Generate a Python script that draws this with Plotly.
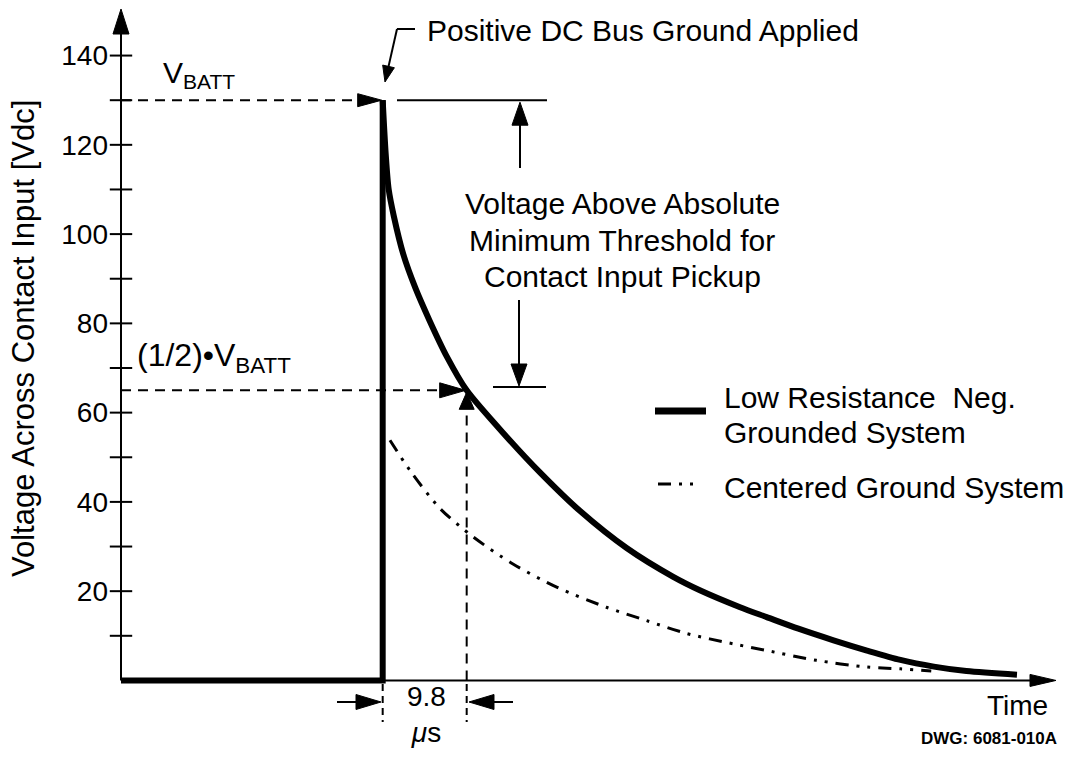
import math
import plotly.graph_objects as go

# ---------------- data ----------------
# Low Resistance Neg. Grounded System (time in microseconds, volts)
t_low_step = [-30.53, 0.0, 0.0]
v_low_step = [0, 0, 130]
t_low = [0.0, 0.35, 0.7, 1.3, 2.4, 3.8, 5.5, 7.5, 9.8, 14.5, 18.4, 23.0, 28.5,
         33.9, 37.0, 41.7, 44.8, 48.5, 52.6, 56.5, 60.4, 64.3, 68.1, 74.0]
v_low = [130, 118, 110, 104, 95.5, 88, 80.5, 72.5, 65, 54.5, 46.5, 38.0, 29.6,
         23.2, 20.2, 16.4, 14.2, 11.6, 9.0, 6.7, 4.6, 3.1, 2.1, 1.3]
# Centered Ground System
t_ctr = [0.85, 3.2, 6.7, 10.6, 15.2, 20.3, 26.1, 30.8, 35.5, 40.9, 44.8, 50.6, 56.5, 60.4, 64.0]
v_ctr = [53.8, 47.0, 38.5, 32.1, 26.1, 20.9, 16.4, 13.4, 10.5, 8.2, 6.7, 4.5, 3.0, 2.6, 2.1]

v_batt = 130
v_half = 65
t_half = 9.8

y_tick_vals = [20, 40, 60, 80, 100, 120, 140]
y_tick_text = ["20", "40", "60", "80", "100", "120", "140"]
y_tick_marks = [10, 20, 30, 40, 50, 60, 70, 80, 90, 100, 110, 120, 130, 140]

# ---------------- geometry ----------------
W, H = 1066, 757
ML, MR, MT, MB = 121, 6, 2, 23
PW, PH = W - ML - MR, H - MT - MB
X0, X1 = -30.53, 79.02
Y0, Y1 = -12, 152

FONT = "Liberation Sans, Arial, Helvetica, sans-serif"


def px(p):
    return (p - ML) / PW


def py(p):
    return 1 - (p - MT) / PH


def dxp(x):
    return ML + (x - X0) / (X1 - X0) * PW


def dyp(y):
    return MT + (Y1 - y) / (Y1 - Y0) * PH


shapes = []
annotations = []


def seg(p0, p1, width=2, dash=None):
    shapes.append(dict(type="line", xref="paper", yref="paper",
                       x0=px(p0[0]), y0=py(p0[1]), x1=px(p1[0]), y1=py(p1[1]),
                       line=dict(color="black", width=width, dash=dash)))


def head(tip, frm, length=22, half=7):
    ux, uy = frm[0] - tip[0], frm[1] - tip[1]
    n = math.hypot(ux, uy)
    ux, uy = ux / n, uy / n
    bx, by = tip[0] + ux * length, tip[1] + uy * length
    nx, ny = -uy, ux
    pts = [tip, (bx + nx * half, by + ny * half), (bx - nx * half, by - ny * half)]
    path = "M " + " L ".join(f"{px(a):.5f},{py(b):.5f}" for a, b in pts) + " Z"
    shapes.append(dict(type="path", xref="paper", yref="paper", path=path,
                       fillcolor="black", line=dict(color="black", width=1)))
    return (bx - ux, by - uy)


def arrow(frm, tip, length=22, half=7, width=2, dash=None):
    base = head(tip, frm, length, half)
    seg(frm, base, width, dash)


def text(s, x, y, size=30, xanchor="center", yanchor="middle", angle=0, bold=False):
    annotations.append(dict(text=s, xref="paper", yref="paper", x=px(x), y=py(y),
                            xanchor=xanchor, yanchor=yanchor, showarrow=False,
                            textangle=angle,
                            font=dict(family=FONT, size=size, color="black",
                                      weight="bold" if bold else "normal")))


DASH = "10px,7px"
DASHDOT = "13px,8px,3px,8px,3px,8px"

# axes with arrows
y0p = dyp(0)
arrow((ML, y0p), (ML, 9), 25, 8)
arrow((ML, y0p), (1056, y0p), 26, 6)

# V_BATT level
arrow((ML, dyp(v_batt)), (dxp(0) - 1, dyp(v_batt)), 24, 6.5, dash=DASH)
# half level
arrow((ML, dyp(v_half)), (dxp(t_half) - 1, dyp(v_half)), 26, 7.5, dash=DASH)
# vertical at t_half
arrow((dxp(t_half), y0p), (dxp(t_half), dyp(v_half) + 2), 17, 7.5, dash=DASH)

# bracket on the right
seg((397, dyp(v_batt)), (547, dyp(v_batt)))
arrow((520, 168), (520, dyp(v_batt) + 2), 23, 8)
seg((493, 387), (546, 387))
arrow((519, 300), (519, 386), 22, 8)

# pointer for "Positive DC Bus Ground Applied"
seg((415, 29), (397, 29))
arrow((397, 29), (385, 82), 16, 6)

# 9.8 us markers below axis
seg((dxp(0), 684), (dxp(0), 722), dash="7px,5px")
seg((dxp(t_half), 684), (dxp(t_half), 722), dash="7px,5px")
arrow((337, 702), (381, 702), 25, 7.5)
arrow((513, 702), (469, 702), 25, 7.5)

# legend samples
seg((655, 411), (706, 411), width=7)
seg((658, 484), (700, 484), width=3, dash=DASHDOT)

# texts
text("Voltage Across Contact Input [Vdc]", 23, 339, 31, angle=-90)
text("Positive DC Bus Ground Applied", 425, 30, 30, xanchor="left")
text("V<sub>BATT</sub>", 199, 75, 30)
text("(1/2)\u2022V<sub>BATT</sub>", 214, 357, 32)
text("Voltage Above Absolute", 622, 203, 30)
text("Minimum Threshold for", 622, 240, 30)
text("Contact Input Pickup", 622, 277, 30)
text("Low Resistance  Neg.", 722, 397, 30, xanchor="left")
text("Grounded System", 722, 432, 30, xanchor="left")
text("Centered Ground System", 722, 487, 30, xanchor="left")
text("9.8<br><i>\u03bc</i>s", 426, 714, 28)
text("Time", 1017, 705, 28)
text("DWG: 6081-010A", 989, 738, 17, bold=True)

fig = go.Figure()
fig.add_trace(go.Scatter(x=t_low_step, y=v_low_step, mode="lines",
                         name="Low Resistance Neg. Grounded System",
                         legendgroup="low", line=dict(color="black", width=6),
                         showlegend=False))
fig.add_trace(go.Scatter(x=t_low, y=v_low, mode="lines", name="Low Resistance Neg. Grounded System",
                         legendgroup="low",
                         line=dict(color="black", width=6, shape="spline", smoothing=0.8),
                         showlegend=False))
fig.add_trace(go.Scatter(x=t_ctr, y=v_ctr, mode="lines", name="Centered Ground System",
                         line=dict(color="black", width=3, dash=DASHDOT,
                                   shape="spline", smoothing=0.8),
                         showlegend=False))
fig.add_trace(go.Scatter(x=[X0] * len(y_tick_marks), y=y_tick_marks, mode="markers",
                         marker=dict(symbol="line-ew", size=16, color="black",
                                     line=dict(width=2, color="black")),
                         cliponaxis=False, showlegend=False, hoverinfo="skip"))

fig.update_layout(
    width=W, height=H,
    margin=dict(l=ML, r=MR, t=MT, b=MB, pad=0),
    paper_bgcolor="white", plot_bgcolor="white",
    showlegend=False,
    shapes=shapes, annotations=annotations,
    xaxis=dict(range=[X0, X1], visible=False),
    yaxis=dict(range=[Y0, Y1], tickvals=y_tick_vals, ticktext=y_tick_text,
               showgrid=False, zeroline=False, showline=False, ticks="",
               ticklabelstandoff=12,
               tickfont=dict(family=FONT, size=28, color="black")),
)

fig.write_html("out.html", config={"displayModeBar": False},
               post_script="document.body.style.margin='0px';document.body.style.overflow='hidden';")
